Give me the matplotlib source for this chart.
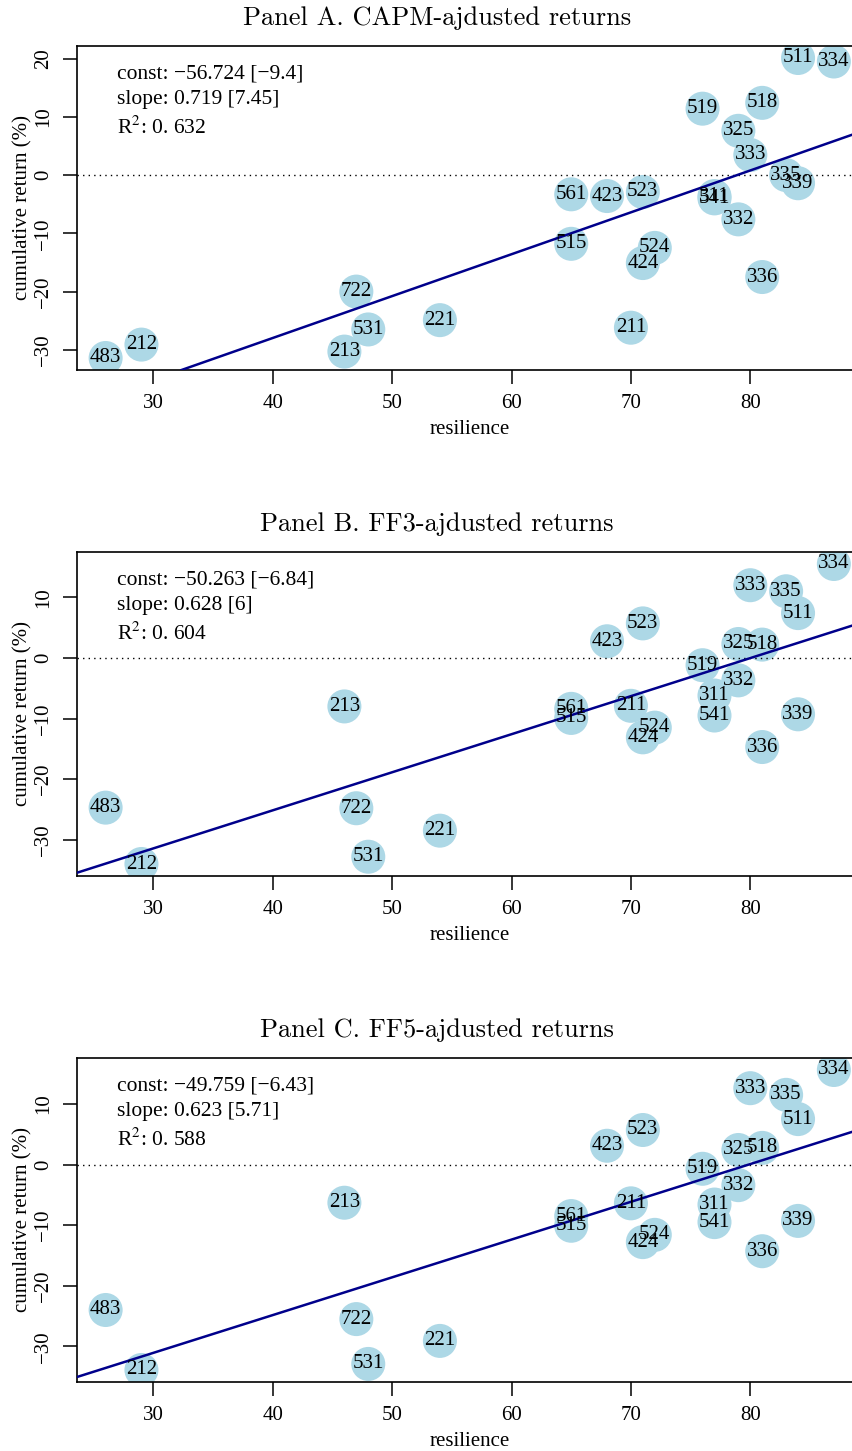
import matplotlib
matplotlib.use('Agg')
import matplotlib.pyplot as plt

plt.rcParams['font.family'] = ['Liberation Serif', 'DejaVu Serif']
plt.rcParams['mathtext.fontset'] = 'stix'

# Data
codes = ['483', '212', '213', '722', '531', '221', '561', '515', '211', '423', '523', '524', '424',
         '519', '325', '518', '332', '311', '541', '336', '339', '333', '335', '511', '334']
resilience = [26, 29, 46, 47, 48, 54, 65, 65, 70, 68, 71, 72, 71,
              76, 79, 81, 79, 77, 77, 81, 84, 80, 83, 84, 87]

capm_ret = [-31.4, -29.1, -30.3, -20.0, -26.5, -24.9, -3.3, -11.8, -26.2, -3.6, -2.9, -12.5, -15.1,
            11.4, 7.6, 12.4, -7.6, -3.6, -4.0, -17.5, -1.4, 3.45, 0.0, 20.1, 19.5]
ff3_ret = [-24.7, -34.0, -8.0, -24.8, -32.8, -28.5, -8.4, -9.9, -7.9, 2.75, 5.7, -11.5, -13.1,
           -1.2, 2.3, 2.2, -3.7, -6.2, -9.5, -14.7, -9.3, 12.0, 11.0, 7.4, 15.5]
ff5_ret = [-24.0, -33.9, -6.3, -25.5, -32.9, -29.1, -8.5, -10.1, -6.4, 3.1, 5.7, -11.6, -12.8,
           -0.7, 2.4, 2.75, -3.4, -6.6, -9.5, -14.3, -9.3, 12.6, 11.5, 7.5, 15.6]

titles = ['Panel A. CAPM-ajdusted returns', 'Panel B. FF3-ajdusted returns', 'Panel C. FF5-ajdusted returns']
consts = [-56.724, -50.263, -49.759]
slopes = [0.719, 0.628, 0.623]
const_txt = ['const: \u221256.724 [\u22129.4]', 'const: \u221250.263 [\u22126.84]', 'const: \u221249.759 [\u22126.43]']
slope_txt = ['slope: 0.719 [7.45]', 'slope: 0.628 [6]', 'slope: 0.623 [5.71]']
r2_txt = ['0. 632', '0. 604', '0. 588']

fig = plt.figure(figsize=(8.52, 14.51), dpi=100)
H = 1451.0
tops = [46, 552, 1058]
panels = [capm_ret, ff3_ret, ff5_ret]

for i, ret in enumerate(panels):
    top = tops[i]
    ax = fig.add_axes([76.5 / 852, 1 - (top + 324) / H, (863 - 76.5) / 852, 324 / H])

    # points and labels
    ax.scatter(resilience, ret, s=600, color='lightblue', edgecolors='none', zorder=2)
    for c, x, y in zip(codes, resilience, ret):
        ax.text(x, y, c, ha='center', va='center', fontsize=15, zorder=4)
    ax.margins(x=0.04, y=0.04)
    ax.autoscale_view()
    ax.set_xlim(ax.get_xlim())
    ax.set_ylim(ax.get_ylim())

    # zero line and fitted line
    ax.axhline(0, color='black', lw=1, ls=(0, (1, 3)), zorder=3)
    ax.axline((0, consts[i]), slope=slopes[i], color='darkblue', lw=1.8, zorder=3)

    # stats
    ax.text(0.051, 0.915, const_txt[i], transform=ax.transAxes, fontsize=15.5, va='center')
    ax.text(0.051, 0.835, slope_txt[i], transform=ax.transAxes, fontsize=15.5, va='center')
    ax.text(0.051, 0.748, r'R$^2$: ' + r2_txt[i], transform=ax.transAxes, fontsize=15.5, va='center')

    # axes style
    ax.set_xticks([30, 40, 50, 60, 70, 80])
    if i == 0:
        ax.set_yticks([-30, -20, -10, 0, 10, 20])
    else:
        ax.set_yticks([-30, -20, -10, 0, 10])
    ax.tick_params(direction='out', length=10, width=1.1, labelsize=15, pad=7)
    for lab in ax.get_yticklabels():
        lab.set_rotation(90)
        lab.set_va('center')
    for sp in ax.spines.values():
        sp.set_linewidth(1.2)

    ax.set_xlabel('resilience', fontsize=15)
    ax.xaxis.set_label_coords(0.5, -60 / 324)
    ax.xaxis.label.set_va('center')
    ax.set_ylabel('cumulative return (%)', fontsize=15)
    ax.yaxis.set_label_coords(-53.5 / 786.5, 0.5)
    ax.yaxis.label.set_va('center')

    fig.text(437 / 852, 1 - (top - 28) / H, titles[i], family='cmr10', fontsize=19,
             ha='center', va='center')

fig.savefig('out.png', dpi=100)
